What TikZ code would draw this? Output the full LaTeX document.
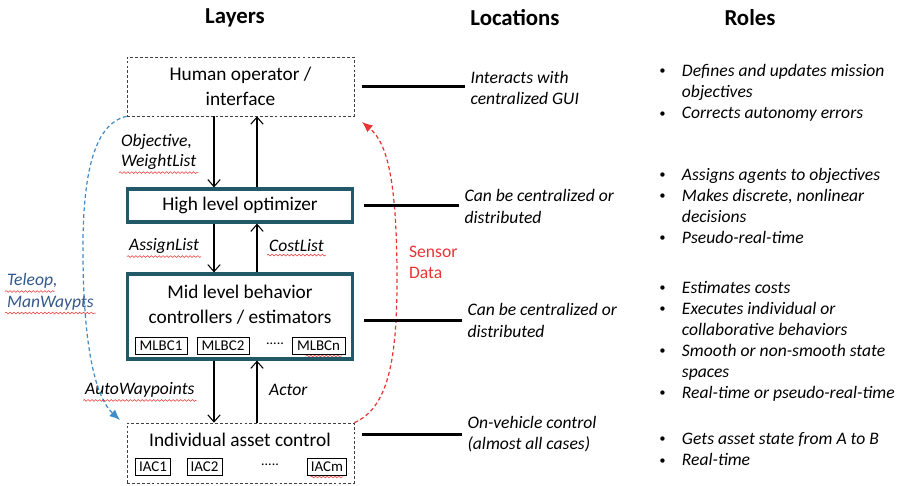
\documentclass[tikz,border=0pt]{standalone}
\usepackage{fontspec}
\setmainfont{Carlito}
\usetikzlibrary{arrows.meta, positioning, calc, decorations.pathmorphing}

\definecolor{layerteal}{RGB}{33,89,104}
\definecolor{teleblue}{RGB}{66,140,200}
\definecolor{teletext}{RGB}{52,88,140}
\definecolor{sensorred}{RGB}{232,52,52}
\newcommand{\rolebullet}{\raisebox{0.2ex}{\scalebox{0.7}{\textbullet}}}

\begin{document}
\begin{tikzpicture}[x=0.02cm, y=-0.02cm,
    title/.style={font=\fontsize{13}{15}\selectfont\bfseries},
    hollow/.style={rectangle, draw=black!75, dash pattern=on 1.6pt off 1.2pt, thin, minimum width=4.54cm, align=center, font=\fontsize{11}{14}\selectfont},
    solidbox/.style={rectangle, draw=layerteal, line width=1.8pt, minimum width=4.5cm, align=center, font=\fontsize{11}{14}\selectfont},
    boxtext/.style={align=center, font=\fontsize{11}{14}\selectfont},
    sub/.style={rectangle, draw, thin, minimum height=0.35cm, inner xsep=2pt, inner ysep=1pt, font=\fontsize{8.5}{9}\selectfont},
    flow/.style={-{Straight Barb[length=4pt, width=7pt]}, line width=0.6pt},
    msg/.style={font=\fontsize{10}{12}\selectfont\itshape, inner sep=1pt},
    loc/.style={anchor=west, align=left, inner sep=3pt, font=\fontsize{10}{12}\selectfont\itshape},
    locline/.style={line width=1.5pt},
    role/.style={anchor=west, inner sep=0pt, font=\fontsize{10}{12}\selectfont\itshape},
    squig/.style={sensorred, line width=0.3pt, decorate, decoration={snake, segment length=2.2pt, amplitude=0.5pt}},
    feedback/.style={dash pattern=on 2.2pt off 1.6pt, line width=0.7pt, -{Latex[length=6pt, width=5pt]}}
  ]
  \useasboundingbox (0,0) rectangle (900,486);

  % column titles
  \node[title] (tlayers) at (235,18) {Layers};
  \node[title] (tloc) at (515,18) {Locations};
  \node[title] (troles) at (750,18) {Roles};

  % layers
  \node[hollow, minimum height=1.18cm] (human) at (240.5,86.5) {Human operator /\\interface};
  \node[solidbox, minimum height=0.66cm] (hlo) at (240,205.5) {High level optimizer};
  \node[solidbox, minimum height=1.7cm] (mlb) at (240,316.5) {};
  \node[boxtext] (mlbtxt) at (240,305) {Mid level behavior\\controllers / estimators};
  \node[sub, minimum width=1.04cm] (mlbc1) at (161,346) {MLBC1};
  \node[sub, minimum width=1.04cm] (mlbc2) at (223,346) {MLBC2};
  \node (mdots) at (275,344) {\fontsize{8}{9}\selectfont.....};
  \node[sub, minimum width=1.06cm] (mlbcn) at (318.5,346) {MLBCn};
  \node[hollow, minimum height=1.2cm] (iac) at (240.5,453) {};
  \node[boxtext] (iactxt) at (240,440) {Individual asset control};
  \node[sub, minimum width=0.68cm] (iac1) at (153,467) {IAC1};
  \node[sub, minimum width=0.7cm] (iac2) at (204.5,467) {IAC2};
  \node (idots) at (270,465) {\fontsize{8}{9}\selectfont.....};
  \node[sub, minimum width=0.68cm] (iacm) at (327,467) {IACm};

  % flows between layers
  \coordinate (dn) at (214,0);
  \coordinate (up) at (257,0);
  \draw[flow] (human.south -| dn) -- (hlo.north -| dn);
  \draw[flow] (hlo.north -| up) -- (human.south -| up);
  \draw[flow] (hlo.south -| dn) -- (mlb.north -| dn);
  \draw[flow] (mlb.north -| up) -- (hlo.south -| up);
  \draw[flow] (mlb.south -| dn) -- (iac.north -| dn);
  \draw[flow] (iac.north -| up) -- (mlb.south -| up);

  \node[msg, anchor=west] (obj) at (119,142) {Objective,};
  \node[msg, anchor=west] (wlist) at (119,162) {WeightList};
  \node[msg, anchor=west] (alist) at (127,246) {AssignList};
  \node[msg, anchor=west] (clist) at (267,246) {CostList};
  \node[msg, anchor=west] (awp) at (83,390) {AutoWaypoints};
  \node[msg, anchor=west] (actor) at (267,390) {Actor};

  % teleop and sensor paths
  \coordinate (teletip) at (120,420);
  \coordinate (senstip) at (362,122);
  \draw[feedback, teleblue] (human.south west) .. controls (92,124) and (82,180) .. (83,260)
    .. controls (84,350) and (96,398) .. (teletip);
  \draw[feedback, sensorred] (iac.north east) .. controls (388,408) and (397,360) .. (397,280)
    .. controls (397,175) and (386,142) .. (senstip);
  \node[msg, teletext, anchor=west] (teleop) at (5,281) {Teleop,};
  \node[msg, teletext, anchor=west] (manwp) at (5,303) {ManWaypts};
  \node[anchor=west, align=left, inner sep=1pt, sensorred, font=\fontsize{10}{12}\selectfont] (sensor) at (407,262) {Sensor\\Data};

  % locations
  \node[loc] (loc1) at (465,88) {Interacts with\\centralized GUI};
  \node[loc] (loc2) at (459,206.5) {Can be centralized or\\distributed};
  \node[loc] (loc3) at (462,320.5) {Can be centralized or\\distributed};
  \node[loc] (loc4) at (462,434.5) {On-vehicle control\\(almost all cases)};
  \draw[locline] ([xshift=0.16cm]human.east) -- (human.east -| loc1.west);
  \draw[locline] ([xshift=0.2cm]hlo.east) -- (hlo.east -| loc2.west);
  \draw[locline] ([xshift=0.2cm]mlb.east |- loc3.west) -- (loc3.west);
  \draw[locline] ([xshift=0.16cm]iac.east |- loc4.west) -- (loc4.west);

  % roles
  \node[role] (role1) at (659,93.5) {\begin{tabular}{@{}l@{\hspace{0.33cm}}l@{}}
    \rolebullet & Defines and updates mission\\ & objectives\\ \rolebullet & Corrects autonomy errors\end{tabular}};
  \node[role] (role2) at (659,207.5) {\begin{tabular}{@{}l@{\hspace{0.33cm}}l@{}}
    \rolebullet & Assigns agents to objectives\\ \rolebullet & Makes discrete, nonlinear\\ & decisions\\
    \rolebullet & Pseudo-real-time\end{tabular}};
  \node[role] (role3) at (659,341.5) {\begin{tabular}{@{}l@{\hspace{0.33cm}}l@{}}
    \rolebullet & Estimates costs\\ \rolebullet & Executes individual or\\ & collaborative behaviors\\
    \rolebullet & Smooth or non-smooth state\\ & spaces\\ \rolebullet & Real-time or pseudo-real-time\end{tabular}};
  \node[role] (role4) at (659,451) {\begin{tabular}{@{}l@{\hspace{0.33cm}}l@{}}
    \rolebullet & Gets asset state from A to B\\ \rolebullet & Real-time\end{tabular}};

  % spell-check marks
  \foreach \w in {wlist, alist, clist, awp, manwp}
    \draw[squig] ([yshift=-0.5pt]\w.south west) -- ([yshift=-0.5pt]\w.south east);
  \draw[squig] ([yshift=-0.5pt]teleop.south west) -- ([xshift=-3pt,yshift=-0.5pt]teleop.south east);
  \draw[squig] ([xshift=8pt,yshift=-0.5pt]mlbcn.south west) -- ([xshift=-2pt,yshift=-0.5pt]mlbcn.south east);
  \draw[squig] ([xshift=2pt,yshift=-0.5pt]iacm.south west) -- ([xshift=-2pt,yshift=-0.5pt]iacm.south east);
\end{tikzpicture}
\end{document}
